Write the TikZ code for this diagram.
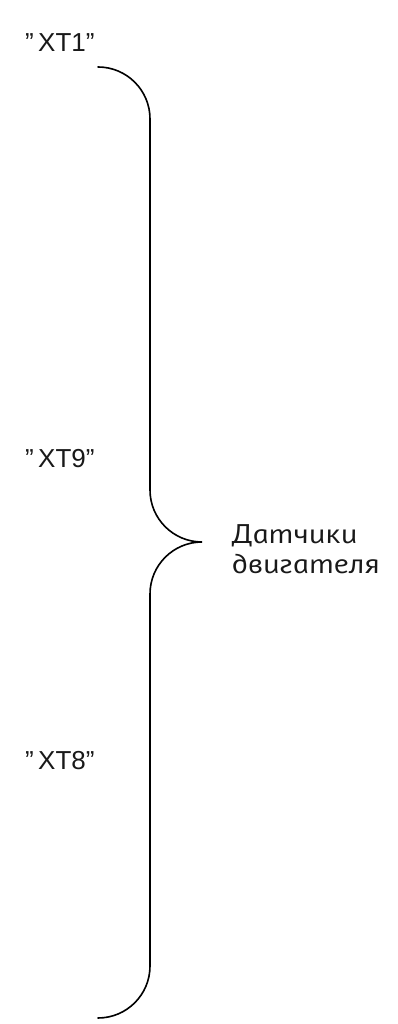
\documentclass[tikz,border=0pt]{standalone}
\usepackage{fontspec}
\setmainfont{Liberation Sans}
\newfontfamily\rufont[FakeSlant=-0.2]{PT Sans Italic}
\begin{document}
\begin{tikzpicture}[x=1pt,y=1pt,
  brace/.style={line width=1.6pt, line cap=round},
  lbl/.style={anchor=base west, inner sep=0pt, font=\fontsize{26}{30}\selectfont, text=black!90},
  rulbl/.style={anchor=base west, inner sep=0pt, font=\rufont\fontsize{27}{30}\selectfont, text=black!90}]
\useasboundingbox (0,0) rectangle (398,1024);
\coordinate (top) at (98,957);
\draw[brace] (top) arc[start angle=90, end angle=0, radius=52]
  -- (150,534) arc[start angle=180, end angle=270, radius=52] coordinate (tip)
  arc[start angle=90, end angle=180, radius=52]
  -- (150,58) arc[start angle=0, end angle=-90, radius=52] coordinate (bot);
\node[lbl] (xt1) at (25,972) {”\,XT1”};
\node[lbl] (xt9) at (25,556) {”\,XT9”};
\node[lbl] (xt8) at (25,254) {”\,XT8”};
\node[rulbl] (l1) at (233,480) {\scalebox{1.21}[1]{Датчики}};
\node[rulbl] (l2) at (233,450) {\scalebox{1.21}[1]{двигателя}};
\end{tikzpicture}
\end{document}
